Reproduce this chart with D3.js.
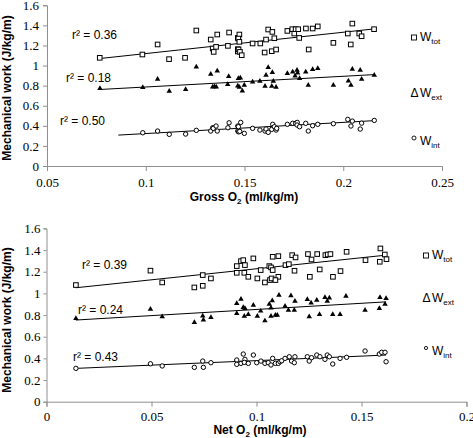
<!DOCTYPE html>
<html><head><meta charset="utf-8">
<script src="https://cdn.jsdelivr.net/npm/d3@7/dist/d3.min.js"></script>
<style>body{margin:0;background:#fff}</style>
</head><body><svg id="c" width="473" height="438"></svg>
<script>
const workTicks=[0,0.2,0.4,0.6,0.8,1,1.2,1.4,1.6];
const grossTicks=[0.05,0.1,0.15,0.2,0.25];
const netTicks=[0,0.05,0.1,0.15,0.2];
const seriesNames=["tot","ext","int"];
const grossR2=["0.36","0.18","0.50"];
const netR2=["0.39","0.24","0.43"];
const grossSlope=[2.124,1.066,1.111];
const grossIntercept=[0.907,0.680,0.212];
const grossTrendFrom=[0.0767,0.0767,0.0861];
const netSlope=[2.038,1.137,0.833];
const netIntercept=[1.0235,0.738,0.296];
const netTrendFrom=[0.014,0.014,0.014];

const grossTot=[[0.0767,1.077],[0.0983,1.11],[0.106,1.21],[0.1118,1.064],[0.1199,1.077],[0.1256,1.349],[0.1329,1.259],[0.1339,1.17],[0.1344,1.136],[0.1362,1.309],[0.1356,1.186],[0.1422,1.329],[0.1416,1.196],[0.1466,1.275],[0.1466,1.163],[0.1466,1.14],[0.1474,1.309],[0.1469,1.269],[0.1474,1.236],[0.147,1.16],[0.1477,1.136],[0.1486,1.103],[0.1541,1.22],[0.158,1.22],[0.1609,1.259],[0.1602,1.13],[0.162,1.359],[0.1641,1.335],[0.1651,1.272],[0.1638,1.143],[0.166,1.16],[0.1717,1.345],[0.1742,1.362],[0.1752,1.319],[0.1759,1.362],[0.1777,1.275],[0.1772,1.362],[0.1811,1.369],[0.1845,1.369],[0.1871,1.39],[0.1825,1.16],[0.195,1.226],[0.2023,1.319],[0.2038,1.21],[0.2046,1.418],[0.2081,1.319],[0.2093,1.292],[0.2156,1.362]];
const grossExt=[[0.0768,0.772],[0.0985,0.782],[0.106,0.865],[0.1119,0.745],[0.1202,0.762],[0.1256,0.987],[0.1329,0.915],[0.1362,0.947],[0.1339,0.788],[0.1348,0.79],[0.1357,0.788],[0.142,0.892],[0.1415,0.812],[0.1469,0.872],[0.1479,0.878],[0.1466,0.798],[0.1474,0.785],[0.1489,0.748],[0.1499,0.805],[0.1541,0.838],[0.1578,0.845],[0.1604,0.795],[0.1609,0.905],[0.162,0.981],[0.1641,0.931],[0.1646,0.845],[0.1638,0.795],[0.166,0.785],[0.1717,0.921],[0.1744,0.937],[0.1756,0.897],[0.1766,0.954],[0.1769,0.927],[0.1779,0.872],[0.181,0.937],[0.1845,0.961],[0.1871,0.971],[0.1823,0.805],[0.195,0.805],[0.2026,0.848],[0.2039,0.805],[0.2046,0.964],[0.2086,0.954],[0.2093,0.865],[0.2157,0.905]];
const grossInt=[[0.0985,0.331],[0.106,0.348],[0.1119,0.315],[0.1202,0.318],[0.1256,0.355],[0.1329,0.348],[0.1339,0.381],[0.1342,0.375],[0.1356,0.398],[0.1362,0.348],[0.1422,0.43],[0.1416,0.381],[0.1466,0.398],[0.1466,0.348],[0.1481,0.434],[0.1469,0.391],[0.147,0.34],[0.1476,0.345],[0.1499,0.325],[0.1541,0.375],[0.1578,0.358],[0.1604,0.348],[0.1609,0.368],[0.162,0.335],[0.1638,0.365],[0.1643,0.415],[0.1651,0.391],[0.166,0.358],[0.1663,0.375],[0.1717,0.415],[0.1744,0.425],[0.1759,0.425],[0.1767,0.434],[0.1766,0.408],[0.1779,0.391],[0.181,0.425],[0.1823,0.348],[0.1845,0.401],[0.1871,0.415],[0.195,0.421],[0.2023,0.464],[0.2046,0.447],[0.2039,0.398],[0.2086,0.368],[0.2093,0.427],[0.2157,0.454]];

const netTot=[[0.014,1.077],[0.0495,1.21],[0.0551,1.101],[0.0704,1.055],[0.0744,1.07],[0.0744,1.169],[0.0783,1.138],[0.0906,1.252],[0.0906,1.19],[0.0926,1.298],[0.0937,1.307],[0.0945,1.261],[0.0942,1.19],[0.0961,1.153],[0.0985,1.323],[0.1004,1.138],[0.102,1.215],[0.104,1.101],[0.1061,1.252],[0.1069,1.24],[0.1064,1.123],[0.1072,1.138],[0.1077,1.215],[0.1077,1.338],[0.1104,1.344],[0.1104,1.153],[0.109,1.123],[0.1138,1.261],[0.1154,1.27],[0.117,1.353],[0.1186,1.332],[0.1181,1.209],[0.1245,1.363],[0.1262,1.313],[0.1254,1.153],[0.1289,1.363],[0.1301,1.221],[0.1328,1.353],[0.1339,1.359],[0.1352,1.363],[0.1364,1.153],[0.14,1.206],[0.1429,1.384],[0.1519,1.307],[0.1587,1.292],[0.159,1.415],[0.1611,1.359],[0.1619,1.316]];
const netExt=[[0.014,0.769],[0.0495,0.854],[0.0551,0.786],[0.0704,0.732],[0.0744,0.793],[0.0747,0.754],[0.0783,0.779],[0.0906,0.908],[0.0926,0.947],[0.0906,0.815],[0.0937,0.871],[0.0945,0.862],[0.0942,0.79],[0.0961,0.806],[0.0985,0.892],[0.1004,0.79],[0.102,0.837],[0.104,0.747],[0.1061,0.901],[0.1075,0.932],[0.1069,0.867],[0.1069,0.79],[0.109,0.8],[0.1099,0.8],[0.1107,0.984],[0.1136,0.883],[0.1152,0.846],[0.1164,0.978],[0.1183,0.929],[0.118,0.846],[0.1251,0.784],[0.1242,0.945],[0.126,0.913],[0.1287,0.938],[0.13,0.806],[0.1326,0.963],[0.1337,0.929],[0.1347,0.959],[0.1363,0.806],[0.1398,0.806],[0.1426,0.975],[0.1517,0.846],[0.1585,0.862],[0.1588,0.963],[0.1617,0.954],[0.1612,0.901]];
const netInt=[[0.014,0.308],[0.0495,0.35],[0.0551,0.33],[0.0704,0.317],[0.0744,0.375],[0.0747,0.317],[0.0783,0.36],[0.0906,0.385],[0.0906,0.345],[0.0926,0.354],[0.0937,0.44],[0.0945,0.391],[0.0942,0.363],[0.0961,0.354],[0.0985,0.431],[0.1001,0.36],[0.1021,0.375],[0.104,0.354],[0.1056,0.36],[0.1069,0.339],[0.1077,0.4],[0.109,0.354],[0.1104,0.354],[0.1112,0.369],[0.112,0.378],[0.1136,0.4],[0.1156,0.415],[0.1183,0.415],[0.1167,0.375],[0.118,0.36],[0.1242,0.415],[0.1262,0.406],[0.1251,0.375],[0.1287,0.431],[0.1302,0.415],[0.1326,0.391],[0.1337,0.431],[0.1347,0.415],[0.1363,0.348],[0.1398,0.4],[0.1429,0.41],[0.1517,0.468],[0.1585,0.44],[0.1596,0.456],[0.1612,0.456],[0.1617,0.369]];

const svg=d3.select("#c");
const AX="#8f8f8f";
const fmt=d=>String(+d.toFixed(2));
const SANS="'Liberation Sans',Arial,sans-serif";
const SERIF="'Liberation Serif','Times New Roman','DejaVu Serif',serif";

function panel(cfg){
  const g=svg.append("g");
  const x=d3.scaleLinear().domain(cfg.xDomain).range(cfg.xRange);
  const y=d3.scaleLinear().domain([0,1.6]).range(cfg.yRange);
  const ya=g.append("g").attr("transform",`translate(${cfg.xRange[0]},0)`)
    .call(d3.axisLeft(y).tickValues(workTicks).tickFormat(fmt).tickSize(cfg.yTick).tickPadding(cfg.yPad));
  const xa=g.append("g").attr("transform",`translate(0,${cfg.yRange[0]})`)
    .call(d3.axisBottom(x).tickValues(cfg.xTicks).tickFormat(fmt).tickSize(5).tickPadding(cfg.xPad));
  [ya,xa].forEach(a=>{
    a.attr("font-family",SERIF).attr("font-size",13);
    a.select(".domain").attr("stroke",AX);
    a.selectAll(".tick line").attr("stroke",AX);
    a.selectAll("text").style("font-family",SERIF).style("font-size","13px").attr("fill","#000");
  });
  cfg.series.forEach((s,i)=>{
    const x1=d3.max(s,d=>d[0]);
    const x0=cfg.trendFrom[i];
    g.append("line")
      .attr("x1",x(x0)).attr("y1",y(cfg.intercept[i]+cfg.slope[i]*x0))
      .attr("x2",x(x1)).attr("y2",y(cfg.intercept[i]+cfg.slope[i]*x1))
      .attr("stroke","#000").attr("stroke-width",1);
  });
  const [tot,ext,int]=cfg.series;
  g.selectAll(".sq").data(tot).join("rect")
    .attr("x",d=>x(d[0])-2.3).attr("y",d=>y(d[1])-2.3).attr("width",4.6).attr("height",4.6)
    .attr("fill","#fff").attr("stroke","#000").attr("stroke-width",1);
  g.selectAll(".tri").data(ext).join("path")
    .attr("transform",d=>`translate(${x(d[0])},${y(d[1])})`)
    .attr("d",d3.symbol().type(d3.symbolTriangle).size(13)).attr("fill","#000");
  g.selectAll(".ci").data(int).join("circle")
    .attr("cx",d=>x(d[0])).attr("cy",d=>y(d[1])).attr("r",2.2)
    .attr("fill","#fff").attr("stroke","#000").attr("stroke-width",1);
  cfg.r2.forEach((r,i)=>{
    g.append("text").attr("x",cfg.r2Pos[i][0]).attr("y",cfg.r2Pos[i][1])
      .attr("font-family",SANS).attr("font-size",12)
      .text("r² = "+r);
  });
  const xt=g.append("text").attr("x",cfg.xTitlePos[0]).attr("y",cfg.xTitlePos[1])
    .attr("text-anchor","middle").attr("font-family",SANS)
    .attr("font-size",12).attr("font-weight","bold");
  xt.append("tspan").text(cfg.xTitle+" O");
  xt.append("tspan").attr("font-size",8).attr("dy",3).text("2");
  xt.append("tspan").attr("dy",-3).text(" (ml/kg/m)");
  g.append("text").attr("transform",`translate(${cfg.yTitlePos[0]},${cfg.yTitlePos[1]}) rotate(-90)`)
    .attr("text-anchor","middle").attr("font-family",SANS)
    .attr("font-size",12).attr("font-weight","bold").text("Mechanical work (J/kg/m)");
  const L=cfg.legend;
  function wlabel(px,py,sub){
    const t=g.append("text").attr("x",px).attr("y",py).attr("font-family",SANS).attr("font-size",12);
    t.append("tspan").text("W");
    t.append("tspan").attr("font-size",8).attr("dy",2.5).text(sub);
  }
  g.append("rect").attr("x",L.x-2.5).attr("y",L.y[0]-6).attr("width",5).attr("height",5)
    .attr("fill","#fff").attr("stroke","#000").attr("stroke-width",0.9);
  wlabel(L.x+6,L.y[0],seriesNames[0]);
  g.append("text").attr("x",L.x-3.5).attr("y",L.y[1]).attr("font-family",SANS).attr("font-size",12).text("Δ");
  wlabel(L.x+6,L.y[1],seriesNames[1]);
  g.append("circle").attr("cx",L.x).attr("cy",L.y[2]-7).attr("r",cfg.legCircR)
    .attr("fill","#fff").attr("stroke","#000").attr("stroke-width",0.9);
  wlabel(L.x+6,L.y[2],seriesNames[2]);
}

panel({xDomain:[0.05,0.25],xRange:[47,442],yRange:[166,5.3],xTicks:grossTicks,
  yTick:4,yPad:4,xPad:7,series:[grossTot,grossExt,grossInt],
  slope:grossSlope,intercept:grossIntercept,trendFrom:grossTrendFrom,r2:grossR2,
  r2Pos:[[72,39],[66,82],[60,125]],xTitle:"Gross",xTitlePos:[244,201],yTitlePos:[11,88],
  legend:{x:414,y:[41,97,145]},legCircR:2});
panel({xDomain:[0,0.2],xRange:[46.5,466.5],yRange:[401.7,228.4],xTicks:netTicks,
  yTick:3,yPad:3,xPad:5,series:[netTot,netExt,netInt],
  slope:netSlope,intercept:netIntercept,trendFrom:netTrendFrom,r2:netR2,
  r2Pos:[[82,269],[78,314],[73,361]],xTitle:"Net",xTitlePos:[260,434],yTitlePos:[11,320],
  legend:{x:426,y:[259,302,355]},legCircR:1.6});
</script></body></html>
